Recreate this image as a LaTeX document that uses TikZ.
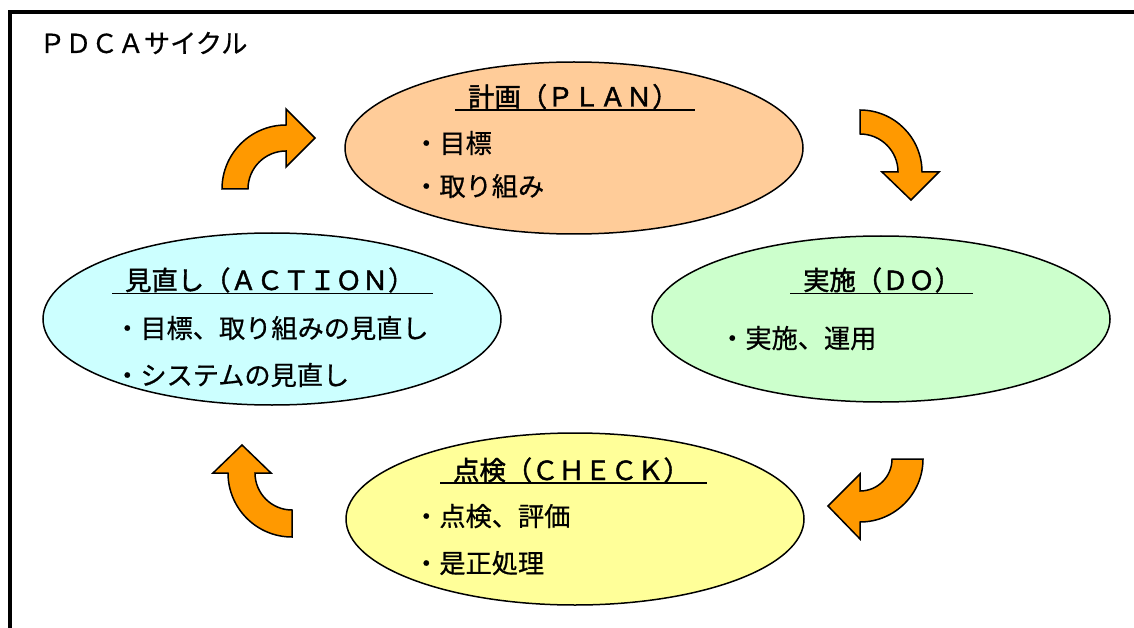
\documentclass[tikz,border=0pt]{standalone}
\usepackage{fontspec}
\setmainfont{Noto Sans CJK JP}
\newfontfamily\jpbody[FakeBold=0.6]{Noto Sans CJK JP}
\newfontfamily\jphead[FakeBold=1.6]{Noto Sans CJK JP}
\usetikzlibrary{shapes.geometric}
\definecolor{arrowor}{HTML}{FF9900}
\definecolor{planc}{HTML}{FFCC99}
\definecolor{doc}{HTML}{CCFFCC}
\definecolor{checkc}{HTML}{FFFF99}
\definecolor{actc}{HTML}{CCFFFF}
\begin{document}
\begin{tikzpicture}[x=1pt,y=-1pt,
  ell/.style={ellipse,draw=black,line width=1.5pt,inner sep=0pt,minimum width=458pt,minimum height=172pt},
  head/.style={anchor=base west,inner sep=0pt,font=\jphead\fontsize{26.3}{26}\selectfont},
  item/.style={anchor=base west,inner sep=0pt,font=\jpbody\fontsize{26.2}{26}\selectfont},
  uline/.style={line width=1.8pt},
  bigarrow/.style={fill=arrowor,draw=black,line width=1.5pt,line join=miter}]
\useasboundingbox (0,0) rectangle (1134,628);
\fill[white] (0,0) rectangle (1134,628);
\draw[line width=4pt] (10,628) -- (10,12) -- (1134,12);
\node[item] (title) at (39,53) {ＰＤＣＡサイクル};
% ellipses
\node[ell,fill=planc] (plan) at (574,148) {};
\node[ell,fill=doc,minimum height=166pt] (doE) at (881,319) {};
\node[ell,fill=checkc] (check) at (575,519) {};
\node[ell,fill=actc] (act) at (272,319) {};
% PLAN
\node[head] (plantitle) at (468,106.5) {計画（ＰＬＡＮ）};
\draw[uline] (455,110) -- (695,110);
\node[item] (plan1) at (413,153) {・目標};
\node[item] (plan2) at (413,196) {・取り組み};
% DO
\node[head] (dotitle) at (803,290) {実施（ＤＯ）};
\draw[uline] (790,293.5) -- (973,293.5);
\node[item] (do1) at (719,348) {・実施、運用};
% ACTION
\node[head] (acttitle) at (125,290) {見直し（ＡＣＴＩＯＮ）};
\draw[uline] (112,293.5) -- (433,293.5);
\node[item] (act1) at (114,338) {・目標、取り組みの見直し};
\node[item] (act2) at (114,385) {・システムの見直し};
% CHECK
\node[head] (checktitle) at (453,480) {点検（ＣＨＥＣＫ）};
\draw[uline] (440,483) -- (707,483);
\node[item] (check1) at (413,526) {・点検、評価};
\node[item] (check2) at (413,573) {・是正処理};
% arrows
\draw[bigarrow] (222,189) arc[start angle=180,end angle=270,radius=64] -- (286,109) -- (315,138) -- (286,167) -- (286,151) arc[start angle=270,end angle=180,radius=38] -- cycle;
\draw[bigarrow] (860,110) arc[start angle=270,end angle=360,radius=62] -- (939,172) -- (911,200) -- (882,172) -- (898,172) arc[start angle=0,end angle=-90,radius=38] -- cycle;
\draw[bigarrow] (892,459) -- (923,459) arc[start angle=0,end angle=90,radius=63] -- (860,539) -- (828,506) -- (860,474) -- (860,491) arc[start angle=90,end angle=0,radius=32] -- cycle;
\draw[bigarrow] (292,537) arc[start angle=90,end angle=180,radius=64] -- (213,473) -- (242,445) -- (271,473) -- (255,473) arc[start angle=180,end angle=90,radius=37] -- cycle;
\end{tikzpicture}
\end{document}
